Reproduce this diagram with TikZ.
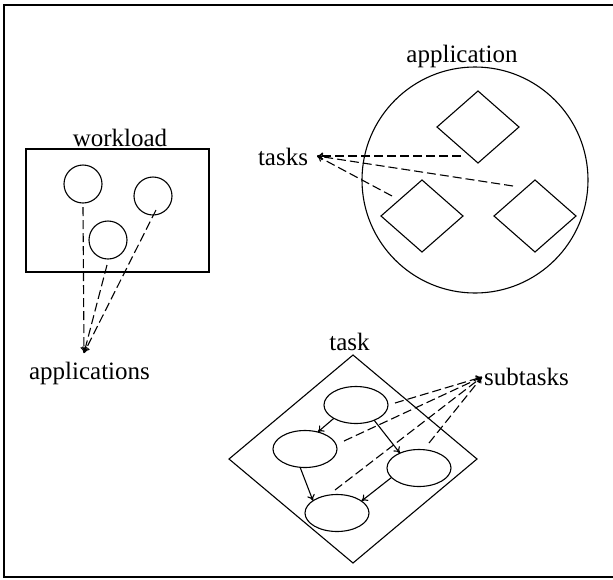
\documentclass[tikz,border=0pt]{standalone}
\usepackage{fontspec}
\setmainfont{Liberation Serif}
\usetikzlibrary{shapes.geometric,arrows.meta}
\begin{document}
\begin{tikzpicture}[x=1pt,y=-1pt,
  every node/.style={inner sep=0pt,outer sep=0pt},
  outline/.style={draw=black,line width=1.1pt},
  lbl/.style={font=\fontsize{25}{30}\selectfont,anchor=base},
  appcircle/.style={outline,circle,minimum size=38pt},
  taskdiamond/.style={outline,diamond,minimum width=82pt,minimum height=72pt},
  subtask/.style={outline,ellipse,minimum width=64pt,minimum height=37pt},
  pointer/.style={draw=black,line width=1.1pt,dash pattern=on 9pt off 4pt,
    -{To[length=6pt,width=7pt]}},
  flow/.style={draw=black,line width=1.1pt,-{To[length=6pt,width=8pt]}}]
\useasboundingbox (0,0) rectangle (613,579);

% page frame, open on the right
\draw[line width=1.4pt] (613,5) -- (4,5) -- (4,577) -- (613,577);

% ---- workload: a set of applications
\node[outline,minimum width=183pt,minimum height=123pt] (workload) at (117.5,210.5) {};
\node[lbl] (workloadlbl) at (120,146) {workload};
\node[appcircle] (a1) at (83,184) {};
\node[appcircle] (a2) at (153,196) {};
\node[appcircle] (a3) at (108,240) {};
\node[lbl] (applications) at (89.5,379) {applications};
\coordinate (apptip) at (84,353);
\coordinate (a1p) at (83,207);
\coordinate (a2p) at (156,210);
\coordinate (a3p) at (107,265);
\draw[pointer] (a1p) -- (apptip);
\draw[pointer] (a3p) -- (apptip);
\draw[pointer] (a2p) -- (apptip);

% ---- application: a set of tasks
\node[outline,circle,minimum size=226pt] (app) at (475,180) {};
\node[lbl] (applbl) at (462,62) {application};
\node[taskdiamond] (t1) at (478,127) {};
\node[taskdiamond] (t2) at (422,216) {};
\node[taskdiamond] (t3) at (535,216) {};
\node[lbl] (tasks) at (283,165) {tasks};
\coordinate (tasktip) at (317,156);
\coordinate (t1p) at (461,156);
\coordinate (t2p) at (392,196);
\coordinate (t3p) at (513,186);
\draw[pointer] (t1p) -- (tasktip);
\draw[pointer] (t3p) -- (tasktip);
\draw[pointer] (t2p) -- (tasktip);

% ---- task: a graph of subtasks
\node[outline,diamond,minimum width=248pt,minimum height=208pt] (task) at (353,459) {};
\node[lbl] (tasklbl) at (349.5,350) {task};
\node[subtask] (s1) at (356,405) {};
\node[subtask] (s2) at (305,449) {};
\node[subtask] (s3) at (419,468) {};
\node[subtask] (s4) at (337,513) {};
\draw[flow] (s1.211) -- (s2.53);
\draw[flow] (s1.-40) -- (s3.142);
\draw[flow] (s2.-105) -- (s4.153);
\draw[flow] (s3.199) -- (s4.26);
\node[lbl] (subtasks) at (526.5,385) {subtasks};
\coordinate (subtip) at (482,377);
\coordinate (s1p) at (395,403);
\coordinate (s2p) at (344,441);
\coordinate (s3p) at (429,443);
\coordinate (s4p) at (335,490);
\draw[pointer] (s1p) -- (subtip);
\draw[pointer] (s2p) -- (subtip);
\draw[pointer] (s3p) -- (subtip);
\draw[pointer] (s4p) -- (subtip);
\end{tikzpicture}
\end{document}
